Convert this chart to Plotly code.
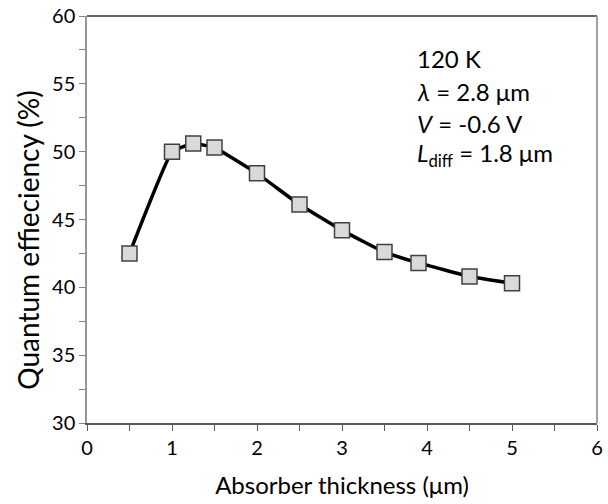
import plotly.graph_objects as go

thickness = [0.5, 1.0, 1.25, 1.5, 2.0, 2.5, 3.0, 3.5, 3.9, 4.5, 5.0]
qe = [42.5, 50.0, 50.6, 50.3, 48.4, 46.1, 44.2, 42.6, 41.8, 40.8, 40.3]

FONT = "Lato"
fig = go.Figure()
fig.add_trace(go.Scatter(
    x=thickness, y=qe, mode="lines+markers",
    line=dict(color="black", width=3.5, shape="spline", smoothing=0.3),
    marker=dict(symbol="square", size=15, color="#d9d9d9",
                line=dict(color="#404040", width=1.5)),
    showlegend=False,
))

axis_common = dict(
    showline=True, linewidth=1.5, mirror=False,
    ticks="outside", ticklen=6,
    showgrid=False, zeroline=False, automargin=False,
    tickfont=dict(family=FONT, size=20, color="black"),
)
fig.update_xaxes(range=[0, 6], dtick=1, tick0=0, linecolor="#595959", tickcolor="#595959",
                 minor=dict(dtick=0.5, ticks="outside", ticklen=6, tickcolor="#595959"),
                 title=dict(text="Absorber thickness (μm)", font=dict(family=FONT, size=24, color="black"), standoff=19),
                 **axis_common)
fig.update_yaxes(range=[30, 60], dtick=5, tick0=30, linecolor="#969696", tickcolor="#808080",
                 minor=dict(dtick=2.5, ticks="outside", ticklen=6, tickcolor="#808080"),
                 **axis_common)

# y-axis title (placed as in the reference, slightly below the axis centre)
fig.add_annotation(text="Quantum effieciency (%)", xref="paper", yref="paper",
                   x=-0.116, y=0.45, textangle=-90, showarrow=False,
                   xanchor="center", yanchor="middle",
                   font=dict(family=FONT, size=28, color="black"))

# plot-area frame: dark top edge, grey right edge
fig.add_shape(type="line", xref="x domain", yref="y domain", x0=0, x1=1, y0=1, y1=1,
              line=dict(color="#333333", width=1.5))
fig.add_shape(type="line", xref="x domain", yref="y domain", x0=1, x1=1, y0=0, y1=1,
              line=dict(color="#a0a0a0", width=2))

lines = ["120 K", "<i>λ</i> = 2.8 μm", "<i>V</i> = -0.6 V", "<i>L</i><sub>diff</sub> = 1.8 μm"]
ys = [56.9, 54.47, 52.04, 49.8]
for t, yv in zip(lines, ys):
    fig.add_annotation(x=3.86, y=yv, xref="x", yref="y", text=t, showarrow=False,
                       xanchor="left", yanchor="middle",
                       font=dict(family=FONT, size=24, color="black"))

fig.update_layout(
    width=608, height=504,
    margin=dict(l=87, r=11, t=16, b=81, autoexpand=False),
    plot_bgcolor="white", paper_bgcolor="white",
)
fig.write_html("out.html", config={"displayModeBar": False},
               post_script="document.body.style.margin='0';document.body.style.overflow='hidden';")
